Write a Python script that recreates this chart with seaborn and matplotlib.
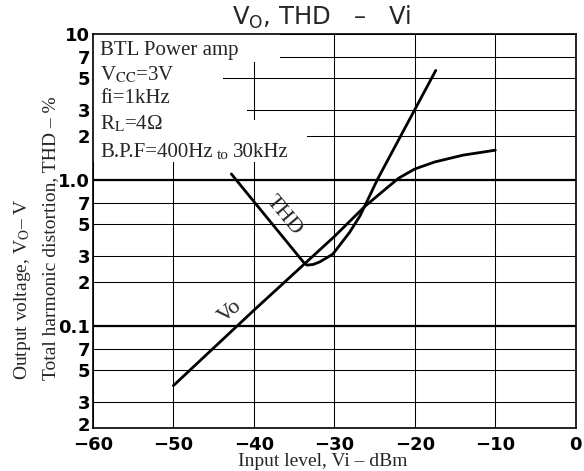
import matplotlib
matplotlib.use("Agg")
import matplotlib.pyplot as plt
from matplotlib.patches import Rectangle
from matplotlib.transforms import ScaledTranslation
import pandas as pd
import seaborn as sns

# curve data
vi_vo = [-50, -40, -30, -26.2, -23.5, -22, -20, -17.5, -14, -10]
vo = [0.039, 0.128, 0.41, 0.66, 0.88, 1.03, 1.19, 1.33, 1.48, 1.6]

vi_thd = [-42.8, -33.8, -33.4, -32.6, -31.8, -30.2, -28.1, -26.8, -26.2, -24.6, -17.4]
thd = [1.1, 0.272, 0.261, 0.264, 0.275, 0.31, 0.438, 0.569, 0.667, 1.02, 5.63]

x_ticks = [-60, -50, -40, -30, -20, -10, 0]
x_labels = ["\u221260", "\u221250", "\u221240", "\u221230", "\u221220", "\u221210", "0"]
y_ticks = [0.02, 0.03, 0.05, 0.07, 0.1, 0.2, 0.3, 0.5, 0.7, 1, 2, 3, 5, 7, 10]
y_labels = ["2", "3", "5", "7", "0.1", "2", "3", "5", "7", "1.0", "2", "3", "5", "7", "10"]

conditions = ["BTL Power amp", r"V$_\mathrm{CC}$=3V", "fi=1kHz", r"R$_\mathrm{L}$=4Ω"]

sns.set_style("white")
plt.rcParams["font.family"] = ["DejaVu Sans"]
SERIF = ["Liberation Serif", "DejaVu Serif"]

W, H = 584, 471
fig = plt.figure(figsize=(W / 100, H / 100), dpi=100)
ax = fig.add_axes([0.159, 0.0913, 0.827, 0.8365])


def fpos(px, py):
    # pixel position measured from top-left -> figure fraction
    return px / W, 1 - py / H


ax.set_yscale("log")
ax.set_xlim(-60, 0)
ax.set_ylim(0.02, 10)
ax.set_xticks(x_ticks)
ax.set_xticklabels(x_labels)
ax.set_yticks(y_ticks)
ax.set_yticklabels(y_labels)
ax.yaxis.set_minor_locator(matplotlib.ticker.NullLocator())
ax.tick_params(length=0, pad=2, labelsize=13, labelcolor="black")
ax.tick_params(axis="x", pad=6)
for lab in ax.get_xticklabels() + ax.get_yticklabels():
    lab.set_fontweight("bold")
# nudge the lowest y label up so it clears "-60"
low = ax.get_yticklabels()[0]
low.set_transform(low.get_transform() + ScaledTranslation(0, 3 / 72, fig.dpi_scale_trans))

# grid
ax.set_axisbelow(True)
ax.grid(True, color="black", lw=0.75)
for v in (0.1, 1):
    ax.axhline(v, color="black", lw=1.6, zorder=0.6)
for s in ax.spines.values():
    s.set_color("black")
    s.set_linewidth(1.2)

# blank area behind the conditions text
for (x0, y0, w, h) in [(0, 0.929, 0.387, 0.071), (0, 0.845, 0.269, 0.084),
                       (0, 0.782, 0.319, 0.063), (0, 0.675, 0.443, 0.107)]:
    ax.add_patch(Rectangle((x0, y0), w, h, transform=ax.transAxes,
                           facecolor="white", edgecolor="none", zorder=1))

df_vo = pd.DataFrame({"vi": vi_vo, "val": vo})
df_thd = pd.DataFrame({"vi": vi_thd, "val": thd})
sns.lineplot(data=df_vo, x="vi", y="val", ax=ax, color="black", lw=2.0, zorder=3)
sns.lineplot(data=df_thd, x="vi", y="val", ax=ax, color="black", lw=2.0, zorder=3)
ax.set_xlabel("")
ax.set_ylabel("")

# curve labels
ax.text(-36.3, 0.566, "THD", rotation=-50, ha="center", va="center",
        rotation_mode="anchor", fontsize=16, family=SERIF, zorder=4)
ax.text(-42.9, 0.126, "Vo", rotation=40, ha="center", va="center",
        rotation_mode="anchor", fontsize=16, family=SERIF, zorder=4)

# condition text block
for txt, py in zip(conditions, [55, 80, 103, 129]):
    fig.text(*fpos(100, py), txt, fontsize=15, family=SERIF,
             math_fontfamily="stix", va="baseline", zorder=4)
t1 = fig.text(*fpos(100, 157), "B.P.F=400Hz", fontsize=15, family=SERIF,
              va="baseline", zorder=4)
t2 = ax.annotate("to", xy=(1, 0), xycoords=t1, xytext=(3, 0),
                 textcoords="offset points", fontsize=11, family=SERIF,
                 va="bottom", zorder=4)
ax.annotate("30kHz", xy=(1, 0), xycoords=t2, xytext=(3, 0),
            textcoords="offset points", fontsize=15, family=SERIF,
            va="bottom", zorder=4)

# title and axis labels
fig.text(0.551, 0.947, "V$_\\mathrm{O}$, THD   \u2013   Vi",
         ha="center", va="baseline", fontsize=17.5)
fig.text(0.553, 0.0106, "Input level, Vi \u2013 dBm", ha="center", va="baseline",
         fontsize=14, family=SERIF)
fig.text(0.038, 0.193, "Output voltage, V$_\\mathrm{O}$\u2013 V",
         rotation=90, ha="center", va="bottom", fontsize=14, family=SERIF,
         math_fontfamily="stix")
fig.text(0.086, 0.193, "Total harmonic distortion, THD \u2013 %", rotation=90,
         ha="center", va="bottom", fontsize=14, family=SERIF)

fig.savefig("out.png", dpi=100)
